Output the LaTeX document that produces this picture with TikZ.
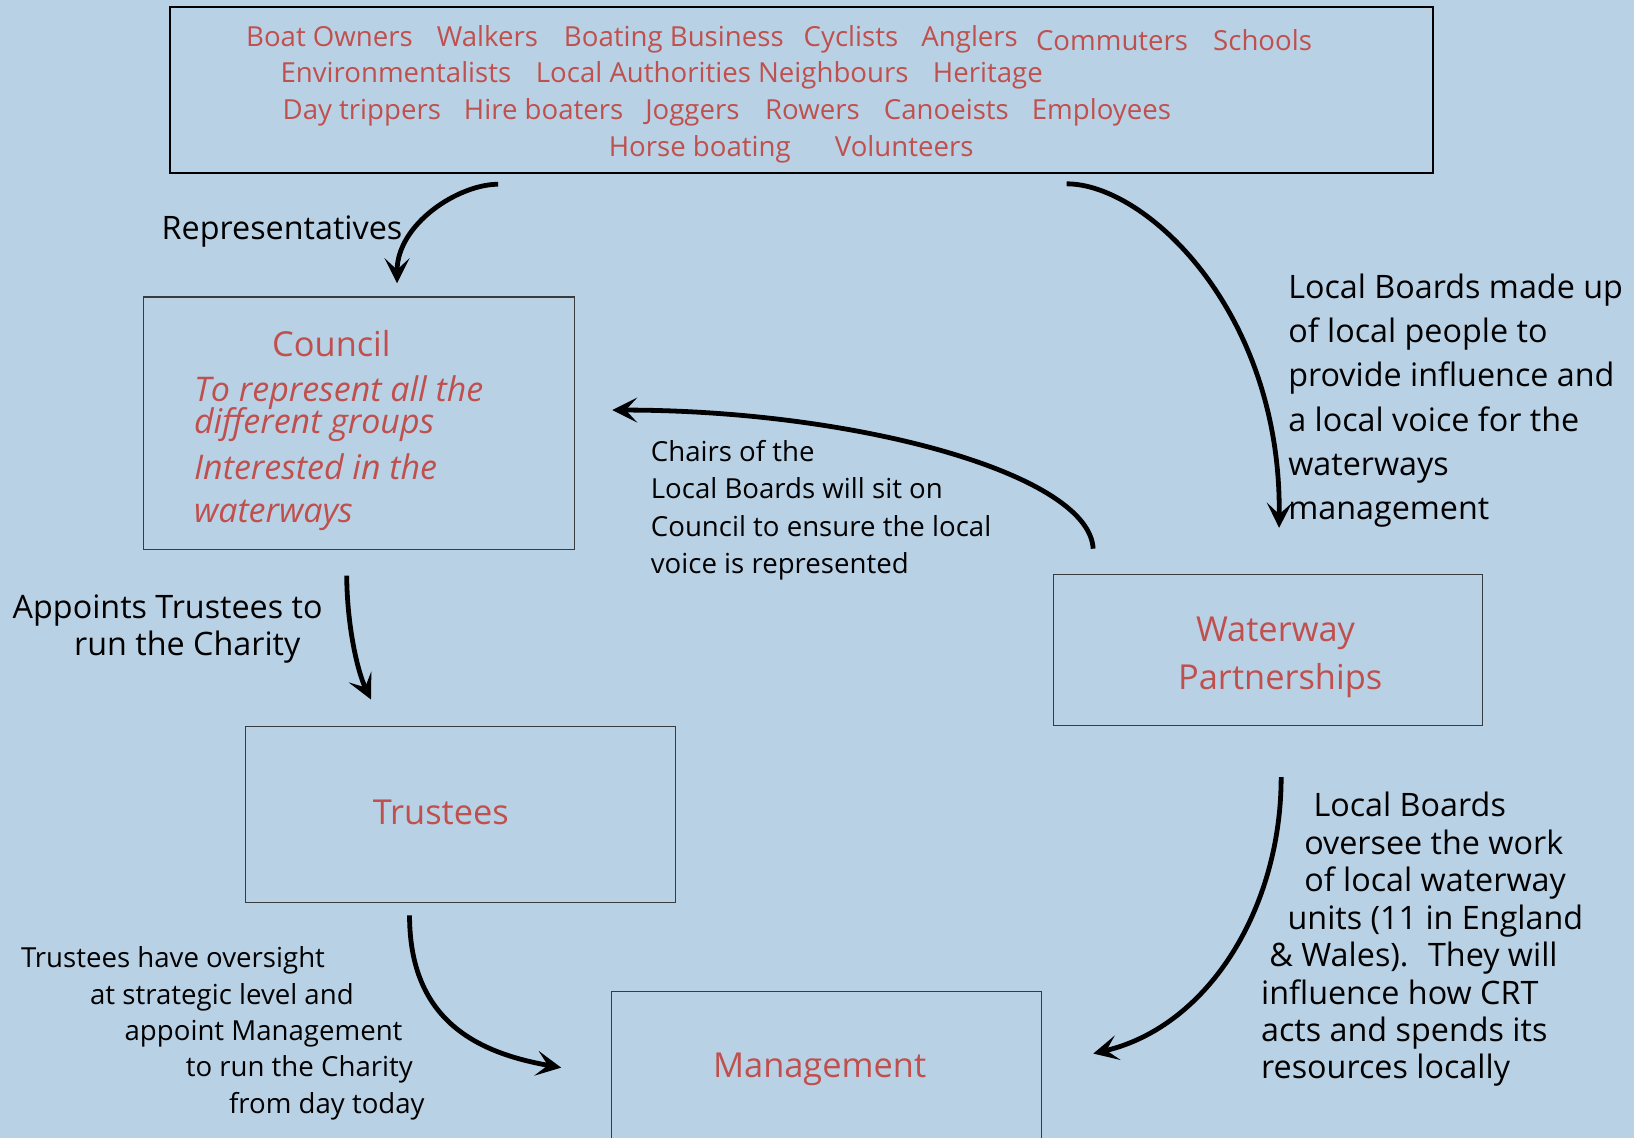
\documentclass[tikz,border=0pt]{standalone}
\usepackage{fontspec}
\setmainfont{Open Sans}
\usetikzlibrary{arrows.meta}

\definecolor{paleblue}{RGB}{185,209,229}
\definecolor{crtred}{RGB}{192,80,77}
\definecolor{edgegray}{RGB}{55,60,65}

\tikzset{
  box/.style={draw=edgegray, line width=1pt, inner sep=0pt},
  flow/.style={line width=4.6pt, -{Stealth[length=24pt,width=24pt,inset=11pt]}},
  group/.style={text=crtred, font=\fontsize{26.5}{32}\selectfont, anchor=base west, inner sep=0pt},
  heading/.style={text=crtred, font=\fontsize{33}{40}\selectfont, anchor=base, inner sep=0pt},
  aim/.style={text=crtred, font=\fontsize{32.6}{38}\selectfont\itshape, anchor=base west, inner sep=0pt},
  note/.style={font=\fontsize{31}{37}\selectfont, anchor=base west, inner sep=0pt},
  smallnote/.style={font=\fontsize{26.5}{32}\selectfont, anchor=base west, inner sep=0pt}
}

\begin{document}
\begin{tikzpicture}[x=1pt,y=-1pt]
  \clip (0,0) rectangle (1568,1092);
  \fill[paleblue] (0,0) rectangle (1568,1092);

  % boxes
  \node[box,draw=black,line width=1.6pt,minimum width=1212pt,minimum height=159pt] (groups) at (769,86.5) {};
  \node[box,minimum width=413pt,minimum height=242pt] (council) at (344.5,406) {};
  \node[box,minimum width=412pt,minimum height=145pt] (waterway) at (1217,624) {};
  \node[box,minimum width=412.5pt,minimum height=169.5pt] (trustees) at (441.75,781.5) {};
  \node[box,minimum width=412pt,minimum height=200pt] (management) at (793,1051.7) {};

  % interest groups
  \foreach \px/\py/\word [count=\i] in {236/45/Boat Owners, 419/45/Walkers, 541/45/Boating Business,
      771/45/Cyclists, 884/45/Anglers, 994/48/Commuters, 1164/48/Schools,
      269/79.5/Environmentalists, 514/79.5/Local Authorities Neighbours, 895/79.5/Heritage,
      271/115/Day trippers, 445/115/Hire boaters, 619/115/Joggers, 734/115/Rowers,
      848/115/Canoeists, 990/115/Employees, 584/150.5/Horse boating, 801/150.5/Volunteers}
    \node[group] (group\i) at (\px,\py) {\word};

  % box titles
  \node[heading] (councilname) at (318,342.3) {Council};
  \node[heading] (waterwayname) at (1224,615.8) {Waterway};
  \node[heading] (partnername) at (1228.5,661.5) {Partnerships};
  \node[heading] (trusteesname) at (423,791) {Trustees};
  \node[heading] (managementname) at (786.5,1034) {Management};

  \foreach \py/\line [count=\i] in {385/To represent all the, 416/different groups,
      460/Interested in the, 501.6/waterways}
    \node[aim] (aim\i) at (186,\py) {\line};

  % notes
  \node[note] (reps) at (155,230) {Representatives};
  \node[note] (appoint1) at (12,593.4) {Appoints Trustees to};
  \node[note] (appoint2) at (71,628.6) {run the Charity};

  \foreach \py/\line [count=\i] in {443/Chairs of the, 478.3/Local Boards will sit on,
      515/Council to ensure the local, 550/voice is represented}
    \node[smallnote] (chairs\i) at (624.4,\py) {\line};

  \foreach \py/\line [count=\i] in {286.3/Local Boards made up, 328.8/of local people to,
      371.3/provide influence and, 413.8/a local voice for the, 456.3/waterways, 498.8/management}
    \node[note] (voice\i) at (1236,\py) {\line};

  \foreach \px/\py/\line [count=\i] in {20/928.3/Trustees have oversight, 86.3/963.5/at strategic level and,
      119.4/998/appoint Management, 178.1/1033.3/to run the Charity, 219.6/1068.4/from day today}
    \node[smallnote] (oversight\i) at (\px,\py) {\line};

  \foreach \px/\py/\line [count=\i] in {1260.3/783.8/Local Boards, 1251.4/819.6/oversee the work,
      1251.4/855.7/of local waterway, 1235.4/891.6/units (11 in England, 1218/927.8/\& Wales).~ They will,
      1210/963.5/influence how CRT, 1210/999.7/acts and spends its, 1210/1034.8/resources locally}
    \node[note] (units\i) at (\px,\py) {\line};

  % arrows
  \draw[flow] ([xshift=-291pt,yshift=-10pt]groups.south) .. controls +(-38,0) and +(0,-57) .. ([xshift=36.5pt,yshift=12.7pt]council.north);
  \draw[flow] ([xshift=-168pt,yshift=24.5pt]waterway.north) .. controls +(-4,-72) and +(233,0) .. ([xshift=36pt,yshift=12.5pt]council.east);
  \draw[flow] ([xshift=254.6pt,yshift=-9.6pt]groups.south) .. controls +(76.4,0) and +(2.6,-207) .. ([xshift=10.4pt,yshift=44.5pt]waterway.north);
  \draw[flow] ([xshift=-11.8pt,yshift=-24.8pt]council.south) .. controls +(0.3,48.2) and +(-13,-26.8) .. ([xshift=-85.75pt,yshift=25pt]trustees.north);
  \draw[flow] ([xshift=-48.75pt,yshift=-11.7pt]trustees.south) .. controls +(0,102) and +(-79,-14) .. ([xshift=-48pt,yshift=-73.3pt]management.north west);
  \draw[flow] ([xshift=12.4pt,yshift=-48.8pt]waterway.south) .. controls +(0,124.7) and +(111.4,-26.5) .. ([xshift=49.6pt,yshift=-59.8pt]management.north east);
\end{tikzpicture}
\end{document}
